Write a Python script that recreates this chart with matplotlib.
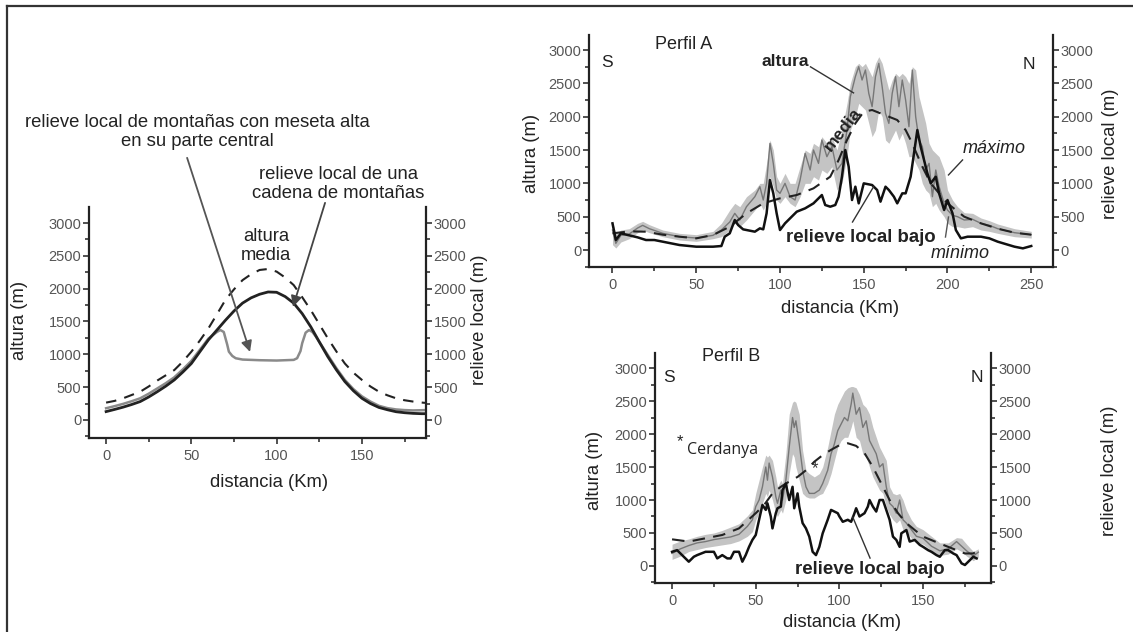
import numpy as np
import matplotlib
matplotlib.use('Agg')
import matplotlib.pyplot as plt
from matplotlib.ticker import MultipleLocator, FixedLocator
from matplotlib.lines import Line2D

plt.rcParams['font.family'] = ['Liberation Sans', 'DejaVu Sans']

# ---- esquema (panel izquierdo) ----
x_esq = [0, 5, 10, 15, 20, 25, 30, 35, 40, 45, 50, 55, 60, 65, 70, 75, 80, 85, 90, 95,
         100, 105, 110, 115, 120, 125, 130, 135, 140, 145, 150, 155, 160, 165, 170, 175,
         180, 185, 187]
media_esq = [264, 290, 330, 380, 430, 510, 600, 680, 760, 890, 1040, 1210, 1395, 1610, 1830,
             1990, 2130, 2220, 2285, 2300, 2260, 2170, 2055, 1870, 1675, 1460, 1245, 1045,
             860, 720, 610, 510, 430, 375, 330, 300, 280, 265, 260]
cadena_esq = [127, 160, 195, 235, 280, 350, 430, 515, 610, 730, 860, 1040, 1220, 1370, 1520,
              1660, 1780, 1860, 1915, 1950, 1945, 1880, 1780, 1620, 1420, 1190, 965, 765,
              585, 445, 330, 250, 190, 155, 125, 110, 100, 95, 95]
x_meseta = [0, 5, 10, 15, 20, 25, 30, 35, 40, 45, 50, 55, 60, 65, 67, 69, 71, 72, 74, 76, 80,
            90, 100, 110, 112, 114, 115, 117, 119, 121, 123, 125, 130, 135, 140, 145, 150,
            155, 160, 165, 170, 175, 180, 185, 187]
meseta_esq = [178, 210, 245, 285, 330, 400, 480, 560, 650, 770, 900, 1070, 1240, 1340, 1370,
              1340, 1150, 1040, 975, 940, 920, 910, 905, 915, 940, 1050, 1170, 1330, 1370,
              1340, 1270, 1190, 990, 790, 610, 470, 360, 280, 215, 180, 160, 150, 145, 148, 150]

# ---- Perfil A ----
xa_alt = [0, 2, 5, 10, 15, 18, 22, 30, 40, 50, 60, 65, 70, 73, 76, 80, 85, 88, 90, 92,
          94, 96, 98, 100, 103, 106, 109, 112, 115, 118, 120, 123, 125, 128, 131, 134, 137,
          140, 142, 145, 147, 149, 151, 153, 155, 157, 159, 161, 163, 165, 167, 169, 171,
          173, 175, 177, 179, 181, 183, 185, 187, 189, 191, 193, 195, 198, 200, 203, 206,
          210, 215, 220, 225, 230, 240, 250]
alt_a = [300, 100, 220, 240, 330, 370, 320, 250, 200, 180, 220, 300, 420, 550, 450, 650,
         800, 950, 750, 1000, 1600, 1300, 900, 850, 1000, 800, 750, 1050, 1450, 1200, 1500,
         1300, 1650, 1400, 1550, 1200, 1300, 1800, 2300, 2600, 2750, 2550, 2700, 2350, 2150,
         2600, 2800, 2450, 2050, 1900, 2350, 2600, 2150, 2550, 2250, 1850, 2700, 2000, 1650,
         1550, 1200, 1300, 800, 1200, 950, 700, 600, 520, 500, 450, 460, 400, 370, 320, 260, 230]
max_a = [420, 250, 300, 320, 400, 430, 380, 300, 250, 230, 280, 400, 600, 700, 650, 800,
         900, 1000, 1000, 1300, 1650, 1500, 1100, 1000, 1150, 1000, 1000, 1250, 1500, 1450,
         1600, 1550, 1700, 1600, 1700, 1500, 1800, 2200, 2500, 2750, 2800, 2750, 2800, 2700,
         2600, 2800, 2900, 2800, 2600, 2400, 2550, 2650, 2600, 2650, 2600, 2500, 2750, 2700,
         2300, 2100, 1900, 1600, 1500, 1450, 1400, 1200, 900, 750, 650, 560, 550, 480, 440,
         390, 320, 280]
min_a = [80, 30, 120, 170, 260, 300, 260, 200, 150, 130, 170, 200, 300, 400, 350, 450, 600,
         700, 600, 700, 1100, 950, 750, 700, 800, 700, 650, 800, 1000, 1000, 1100, 1050, 1200,
         1150, 1250, 900, 1000, 1400, 1800, 2000, 2200, 2150, 2100, 1900, 1700, 1800, 2100,
         2000, 1650, 1600, 1700, 1800, 1650, 1750, 1600, 1400, 1400, 1300, 1200, 1000, 900,
         850, 650, 700, 600, 500, 400, 350, 350, 330, 350, 300, 280, 250, 200, 180]
xa_med = [0, 10, 20, 30, 40, 50, 60, 70, 75, 80, 90, 100, 110, 120, 130, 135, 140, 145, 150,
          155, 160, 165, 170, 175, 178, 185, 190, 200, 210, 220, 230, 240, 250]
med_a = [250, 280, 275, 230, 200, 175, 225, 350, 450, 550, 700, 775, 825, 925, 1100, 1350,
         1650, 1900, 2075, 2100, 2050, 2000, 1950, 1800, 1650, 1250, 1000, 700, 500, 400, 320,
         260, 230]
xa_rel = [0, 2, 5, 10, 15, 20, 25, 30, 40, 50, 60, 65, 67, 70, 73, 75, 78, 80, 85, 88, 90,
          92, 94, 96, 98, 100, 103, 105, 110, 115, 120, 125, 127, 130, 133, 135, 137, 139,
          141, 143, 145, 147, 150, 155, 158, 160, 163, 165, 168, 170, 173, 175, 178, 180,
          182, 184, 186, 188, 190, 193, 195, 198, 200, 203, 205, 208, 212, 220, 225, 230,
          240, 245, 250]
rel_a = [400, 150, 250, 220, 190, 150, 150, 125, 75, 50, 50, 60, 200, 250, 450, 375, 310,
         300, 275, 325, 310, 550, 1050, 850, 550, 300, 400, 450, 575, 625, 700, 825, 675, 650,
         675, 800, 1100, 1500, 1250, 750, 950, 700, 1000, 975, 900, 725, 950, 900, 800, 700,
         850, 850, 1100, 1450, 1800, 1550, 1350, 1150, 1000, 1100, 850, 600, 750, 550, 300,
         175, 200, 200, 175, 125, 50, 25, 60]

# ---- Perfil B ----
xb_alt = [0, 5, 10, 15, 20, 25, 30, 35, 40, 45, 48, 50, 52, 54, 56, 57, 58, 60, 62, 63, 65,
          66, 68, 70, 72, 73, 74, 76, 78, 80, 82, 85, 88, 90, 93, 95, 97, 99, 101, 103, 105,
          107, 108, 110, 112, 114, 116, 118, 120, 122, 124, 126, 128, 130, 132, 134, 136,
          138, 140, 143, 146, 150, 155, 160, 165, 170, 173, 176, 180, 183]
alt_b = [190, 260, 310, 350, 370, 400, 420, 440, 480, 600, 700, 900, 1000, 1200, 1500, 1300,
         1560, 1350, 1050, 950, 1150, 1000, 1300, 1800, 2250, 2100, 2200, 1850, 1450, 1200,
         1100, 1100, 1150, 1250, 1450, 1700, 1850, 2050, 2150, 2250, 2200, 2450, 2620, 2300,
         2400, 2100, 2200, 1900, 1800, 1700, 1500, 1550, 1200, 950, 900, 800, 1000, 700, 650,
         550, 450, 420, 300, 230, 260, 370, 300, 230, 150, 210]
max_b = [330, 380, 410, 450, 480, 500, 540, 590, 640, 760, 850, 1100, 1300, 1500, 1680, 1650,
         1680, 1600, 1350, 1200, 1300, 1250, 1700, 2300, 2480, 2500, 2480, 2300, 1750, 1450,
         1400, 1350, 1400, 1500, 1800, 2050, 2300, 2450, 2550, 2650, 2700, 2720, 2720, 2700,
         2600, 2450, 2400, 2300, 2100, 1950, 1800, 1700, 1600, 1200, 1100, 1080, 1100, 1000,
         850, 700, 600, 550, 450, 350, 350, 430, 420, 330, 220, 260]
min_b = [100, 150, 220, 250, 280, 300, 320, 340, 380, 450, 520, 700, 800, 950, 1100, 1050,
         1150, 1000, 800, 750, 850, 800, 1000, 1400, 1700, 1650, 1500, 1300, 1100, 1050, 1030,
         1030, 1080, 1100, 1250, 1400, 1600, 1800, 1900, 1950, 1950, 2100, 2200, 1950, 1900,
         1700, 1650, 1500, 1350, 1250, 1150, 1100, 900, 780, 700, 650, 700, 550, 520, 420,
         350, 330, 230, 160, 180, 260, 220, 150, 80, 140]
xb_med = [0, 10, 20, 30, 40, 50, 55, 60, 65, 70, 75, 80, 85, 90, 95, 100, 105, 110, 115, 120,
          125, 130, 135, 140, 145, 150, 160, 170, 175, 180, 183]
med_b = [404, 370, 420, 470, 570, 800, 925, 1100, 1200, 1280, 1350, 1450, 1580, 1680, 1760,
         1830, 1860, 1820, 1710, 1500, 1250, 1000, 800, 650, 545, 445, 340, 240, 190, 190, 240]
xb_rel = [0, 3, 5, 8, 10, 13, 15, 20, 25, 27, 30, 33, 35, 37, 40, 42, 44, 46, 48, 50, 52, 54,
          56, 57, 59, 60, 62, 63, 65, 66, 68, 70, 72, 73, 75, 76, 78, 80, 82, 84, 86, 88, 90,
          93, 95, 97, 99, 100, 102, 105, 107, 109, 110, 112, 115, 117, 118, 120, 122, 124,
          126, 128, 130, 132, 134, 136, 137, 140, 142, 145, 148, 150, 153, 155, 158, 160,
          163, 165, 168, 170, 173, 175, 177, 180, 182]
rel_b = [215, 240, 190, 115, 65, 140, 165, 215, 215, 115, 165, 115, 115, 215, 215, 65, 165,
         290, 395, 470, 700, 925, 850, 950, 750, 570, 800, 875, 900, 1150, 1250, 1000, 1200,
         875, 1100, 900, 650, 570, 445, 215, 165, 290, 495, 700, 850, 825, 800, 750, 670,
         700, 670, 800, 875, 750, 800, 900, 1000, 900, 825, 1000, 1000, 850, 700, 445, 395,
         290, 495, 545, 370, 395, 320, 290, 240, 215, 165, 140, 240, 240, 190, 165, 40, 15,
         65, 140, 115]

y_ticks = [0, 500, 1000, 1500, 2000, 2500, 3000]
TXT = '#222222'


def estilo(ax, xlim, ylim, ylab_x, yrlab_x, ylab_y, xlab_y, xlab_x):
    ax.set_xlim(xlim)
    ax.set_ylim(ylim)
    ax.spines['top'].set_visible(False)
    for s in ['left', 'right', 'bottom']:
        ax.spines[s].set_linewidth(1.6)
        ax.spines[s].set_color('#222222')
    ax.xaxis.set_major_locator(MultipleLocator(50))
    ax.xaxis.set_minor_locator(MultipleLocator(25))
    ax.yaxis.set_major_locator(FixedLocator(y_ticks))
    ax.yaxis.set_minor_locator(MultipleLocator(250))
    ax.tick_params(which='both', direction='out', color='#222222', width=1.1,
                   right=True, labelright=True, top=False)
    ax.tick_params(which='major', length=4, labelsize=10.5, labelcolor='#555555', pad=1.5)
    ax.tick_params(axis='x', which='major', pad=4)
    ax.tick_params(which='minor', length=3)
    ax.set_ylabel('altura (m)', fontsize=13.3, color=TXT)
    ax.yaxis.set_label_coords(ylab_x, ylab_y)
    ax.set_xlabel('distancia (Km)', fontsize=13.3, color=TXT)
    ax.xaxis.set_label_coords(xlab_x, xlab_y)
    ax.text(yrlab_x, ylab_y, 'relieve local (m)', transform=ax.transAxes, rotation=90,
            ha='center', va='center', fontsize=13.3, color=TXT)


fig = plt.figure(figsize=(11.33, 6.32), dpi=100)

# marco
fig.add_artist(Line2D([0.0062, 1], [0.9905, 0.9905], color='#333333', lw=1.6))
fig.add_artist(Line2D([0.0062, 0.0062], [0, 0.9905], color='#333333', lw=1.6))

# ---------- panel izquierdo ----------
ax1 = fig.add_axes([0.0786, 0.3070, 0.2974, 0.3655])
ax1.plot(x_esq, media_esq, color='#222222', lw=1.5, dashes=(5, 4))
ax1.plot(x_meseta, meseta_esq, color='#8a8a8a', lw=1.8)
ax1.plot(x_esq, cadena_esq, color='#222222', lw=2.0)
estilo(ax1, (-10, 187.6), (-275, 3245), -0.181, 1.16, 0.51, -0.156, 0.534)

ax1.text(53.3, 4383, 'relieve local de montañas con meseta alta\nen su parte central',
         ha='center', va='center', fontsize=13.3, color=TXT, linespacing=1.15, clip_on=False)
ax1.text(136, 3590, 'relieve local de una\ncadena de montañas',
         ha='center', va='center', fontsize=13.3, color=TXT, linespacing=1.15, clip_on=False)
ax1.text(93.8, 2645, 'altura\nmedia', ha='center', va='center', fontsize=13.3, color=TXT,
         linespacing=1.15)
ax1.annotate('', xy=(84.4, 1037), xytext=(47.5, 3994), annotation_clip=False,
             arrowprops=dict(arrowstyle='-|>', color='#555555', lw=1.3,
                             mutation_scale=16, shrinkA=0, shrinkB=0))
ax1.annotate('', xy=(109.6, 1722), xytext=(128.4, 3308), annotation_clip=False,
             arrowprops=dict(arrowstyle='-|>', color='#444444', lw=1.3,
                             mutation_scale=16, shrinkA=0, shrinkB=0))

# ---------- Perfil A ----------
ax2 = fig.add_axes([0.5199, 0.5775, 0.4095, 0.3671])
ax2.fill_between(xa_alt, min_a, max_a, color='#c4c4c4', lw=0)
ax2.plot(xa_alt, alt_a, color='#777777', lw=1.0)
ax2.plot(xa_med, med_a, color='#222222', lw=1.5, dashes=(6, 4))
ax2.plot(xa_rel, rel_a, color='#111111', lw=1.8)
estilo(ax2, (-14, 263), (-255, 3225), -0.106, 1.123, 0.49, -0.142, 0.541)

ax2.text(42.4, 3078, 'Perfil A', ha='center', va='center', fontsize=13, color=TXT)
ax2.text(-3, 2808, 'S', ha='center', va='center', fontsize=12.5, color=TXT)
ax2.text(248.4, 2778, 'N', ha='center', va='center', fontsize=12.5, color=TXT)
ax2.text(103, 2823, 'altura', ha='center', va='center', fontsize=12.5, color=TXT,
         fontweight='bold')
ax2.plot([118.2, 143.9], [2748, 2357], color='#333333', lw=1.0)
ax2.text(137.3, 1802, 'media', ha='center', va='center', fontsize=12.5, color=TXT,
         fontweight='bold', rotation=52)
ax2.text(148, 195, 'relieve local bajo', ha='center', va='center', fontsize=13.4,
         color=TXT, fontweight='bold')
ax2.plot([143.3, 155.8], [420, 946], color='#333333', lw=1.0)
ax2.text(227.8, 1516, 'máximo', ha='center', va='center', fontsize=13, color=TXT,
         style='italic')
ax2.plot([209, 200.6], [1351, 1126], color='#333333', lw=1.0)
ax2.text(207.8, -45, 'mínimo', ha='center', va='center', fontsize=13, color=TXT,
         style='italic')
ax2.plot([198.8, 200.6], [195, 495], color='#555555', lw=1.0)

# ---------- Perfil B ----------
ax3 = fig.add_axes([0.5781, 0.0775, 0.2966, 0.3639])
ax3.fill_between(xb_alt, min_b, max_b, color='#c4c4c4', lw=0)
ax3.plot(xb_alt, alt_b, color='#777777', lw=1.0)
ax3.plot(xb_med, med_b, color='#222222', lw=1.5, dashes=(6, 4))
ax3.plot(xb_rel, rel_b, color='#111111', lw=1.8)
estilo(ax3, (-10.2, 190.6), (-258, 3227), -0.155, 1.354, 0.49, -0.133, 0.557)

ax3.text(35, 3180, 'Perfil B', ha='center', va='center', fontsize=13, color=TXT)
ax3.text(-2, 2850, 'S', ha='center', va='center', fontsize=12.5, color=TXT)
ax3.text(182, 2850, 'N', ha='center', va='center', fontsize=12.5, color=TXT)
ax3.text(4.8, 1880, '*', ha='center', va='center', fontsize=12, color=TXT)
ax3.text(9, 1760, 'Cerdanya', ha='left', va='center', fontsize=11.5, color=TXT,
         family=['Open Sans', 'DejaVu Sans'])
ax3.text(85.4, 1470, '*', ha='center', va='center', fontsize=12, color='#333333')
ax3.text(118.3, -60, 'relieve local bajo', ha='center', va='center', fontsize=13.4,
         color=TXT, fontweight='bold')
ax3.plot([118.3, 108], [120, 740], color='#333333', lw=1.0)

fig.savefig('out.png', dpi=100)
